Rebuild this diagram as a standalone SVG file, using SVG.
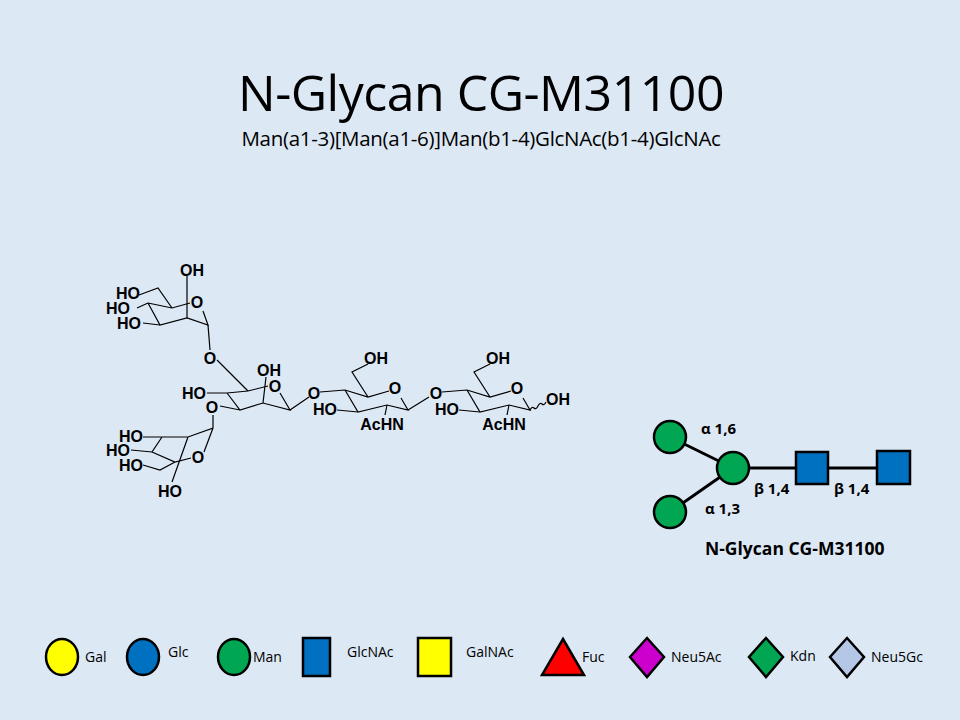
<svg xmlns="http://www.w3.org/2000/svg" width="960" height="720" viewBox="0 0 960 720">
<style>
.t{font-family:"Open Sans","Liberation Sans",sans-serif;fill:#000}
.c{font-family:"Liberation Sans",Arial,sans-serif;font-weight:bold;font-size:16px;fill:#000}
.b{stroke:#000;stroke-width:1.2;fill:none}
.l{stroke:#000;stroke-width:3;fill:none}
.lg{font-family:"Open Sans","Liberation Sans",sans-serif;font-size:14px;fill:#000}
.s{stroke:#000;stroke-width:2.5}
</style>
<rect width="960" height="720" fill="#dde8f5"/>
<text class="t" x="481" y="111" font-size="50" text-anchor="middle" letter-spacing="-0.5">N-Glycan CG-M31100</text>
<text class="t" x="481" y="146" font-size="20.5" text-anchor="middle" fill="#333" letter-spacing="-0.3">Man(a1-3)[Man(a1-6)]Man(b1-4)GlcNAc(b1-4)GlcNAc</text>

<g id="structure">
<g class="b">
<path d="M148,303 L172,308 L190,303 M203,311 L208,325 L187,318 L160,325 L148,303"/>
<path d="M139,295 L158,288 L172,308 M137,308 L148,303 M143,323 L160,325 M187,276 L187,318"/>
<path d="M208,325 L210,350"/>
<path d="M217,360 L227,370 L248,391 M227,393 L248,391 L268,386 M280,393 L290,410 L263,403 L240,410 L227,393 M207,393 L227,393 M220,406 L240,410 M263,403 L266,377 M290,410 L309,397"/>
<path d="M213,415 L213,428 L188,437 L162,437 L152,452 L175,462 L191,458 M204,452 L213,428 M143,437 L162,437 M131,450 L152,452 M143,465 L160,470 L175,462 M172,482 L188,437"/>
<path d="M320,392 L345,390 L368,397 L389,391 M401,398 L408,410 L387,405 L358,412 L345,390 M368,397 L352,372 L368,364 M337,410 L358,412 M387,405 L385,415 M408,410 L429,397"/>
<path d="M442,392 L467,390 L490,397 L511,391 M523,398 L530,410 L509,405 L480,412 L467,390 M490,397 L474,372 L490,364 M459,410 L480,412 M509,405 L507,415"/>
<path d="M530,410 q2,-4 4,-2 t4,-2 t4,-2 t4,-2"/>
</g>
<text class="c" x="192" y="276" text-anchor="middle">OH</text>
<text class="c" x="128" y="299" text-anchor="middle">HO</text>
<text class="c" x="118" y="314" text-anchor="middle">HO</text>
<text class="c" x="129" y="329" text-anchor="middle">HO</text>
<text class="c" x="197" y="308" text-anchor="middle">O</text>
<text class="c" x="210" y="364" text-anchor="middle">O</text>
<text class="c" x="269" y="376" text-anchor="middle">OH</text>
<text class="c" x="275" y="392" text-anchor="middle">O</text>
<text class="c" x="194" y="399" text-anchor="middle">HO</text>
<text class="c" x="212" y="413" text-anchor="middle">O</text>
<text class="c" x="131" y="442" text-anchor="middle">HO</text>
<text class="c" x="118" y="456" text-anchor="middle">HO</text>
<text class="c" x="131" y="471" text-anchor="middle">HO</text>
<text class="c" x="198" y="463" text-anchor="middle">O</text>
<text class="c" x="170" y="497" text-anchor="middle">HO</text>
<text class="c" x="314" y="399" text-anchor="middle">O</text>
<text class="c" x="376" y="364" text-anchor="middle">OH</text>
<text class="c" x="395" y="394" text-anchor="middle">O</text>
<text class="c" x="325" y="415" text-anchor="middle">HO</text>
<text class="c" x="382" y="430" text-anchor="middle">AcHN</text>
<text class="c" x="436" y="399" text-anchor="middle">O</text>
<text class="c" x="498" y="364" text-anchor="middle">OH</text>
<text class="c" x="517" y="394" text-anchor="middle">O</text>
<text class="c" x="447" y="415" text-anchor="middle">HO</text>
<text class="c" x="504" y="430" text-anchor="middle">AcHN</text>
<text class="c" x="558" y="405" text-anchor="middle">OH</text>
</g>

<g id="connectors">
<path class="l" d="M670,437 L733,468 M670,512 L733,468 M733,468 L812,468 M812,468 L893,468"/>
</g>
<g id="man-a16"><circle cx="670" cy="437" r="16" fill="#00a651" class="s"/></g>
<g id="man-a13"><circle cx="670" cy="512" r="16" fill="#00a651" class="s"/></g>
<g id="man-core"><circle cx="733" cy="468" r="16" fill="#00a651" class="s"/></g>
<g id="glcnac1"><rect x="796" y="452" width="32" height="32" fill="#0070c0" class="s"/></g>
<g id="glcnac2"><rect x="877" y="451" width="33" height="33" fill="#0070c0" class="s"/></g>
<g class="t" font-weight="bold" font-size="15">
<text x="701" y="434">α 1,6</text>
<text x="705" y="514">α 1,3</text>
<text x="754" y="494">β 1,4</text>
<text x="834" y="494">β 1,4</text>
<text x="705" y="555" font-size="17.5">N-Glycan CG-M31100</text>
</g>

<g id="legend">
<ellipse cx="62" cy="657" rx="16" ry="18" fill="#ffff00" class="s" stroke-width="2"/>
<ellipse cx="143" cy="657" rx="16" ry="18" fill="#0070c0" class="s" stroke-width="2"/>
<ellipse cx="234" cy="657" rx="16" ry="18" fill="#00a651" class="s" stroke-width="2"/>
<rect x="303" y="638" width="27" height="38" fill="#0070c0" class="s" stroke-width="2"/>
<rect x="418" y="638" width="33" height="38" fill="#ffff00" class="s" stroke-width="2"/>
<path d="M563,639 L584,675 L542,675 Z" fill="#ff0000" class="s" stroke-width="2"/>
<path d="M647,638 L664,657 L647,677 L630,657 Z" fill="#cc00cc" class="s" stroke-width="1.5"/>
<path d="M766,638 L783,657 L766,677 L749,657 Z" fill="#00a651" class="s" stroke-width="1.5"/>
<path d="M847,638 L864,657 L847,677 L830,657 Z" fill="#b4c7e7" class="s" stroke-width="1.5"/>
<text class="lg" x="85" y="662">Gal</text>
<text class="lg" x="168" y="657">Glc</text>
<text class="lg" x="253" y="662">Man</text>
<text class="lg" x="347" y="657">GlcNAc</text>
<text class="lg" x="466" y="657">GalNAc</text>
<text class="lg" x="582" y="662">Fuc</text>
<text class="lg" x="671" y="662">Neu5Ac</text>
<text class="lg" x="790" y="661">Kdn</text>
<text class="lg" x="871" y="662">Neu5Gc</text>
</g>
</svg>
